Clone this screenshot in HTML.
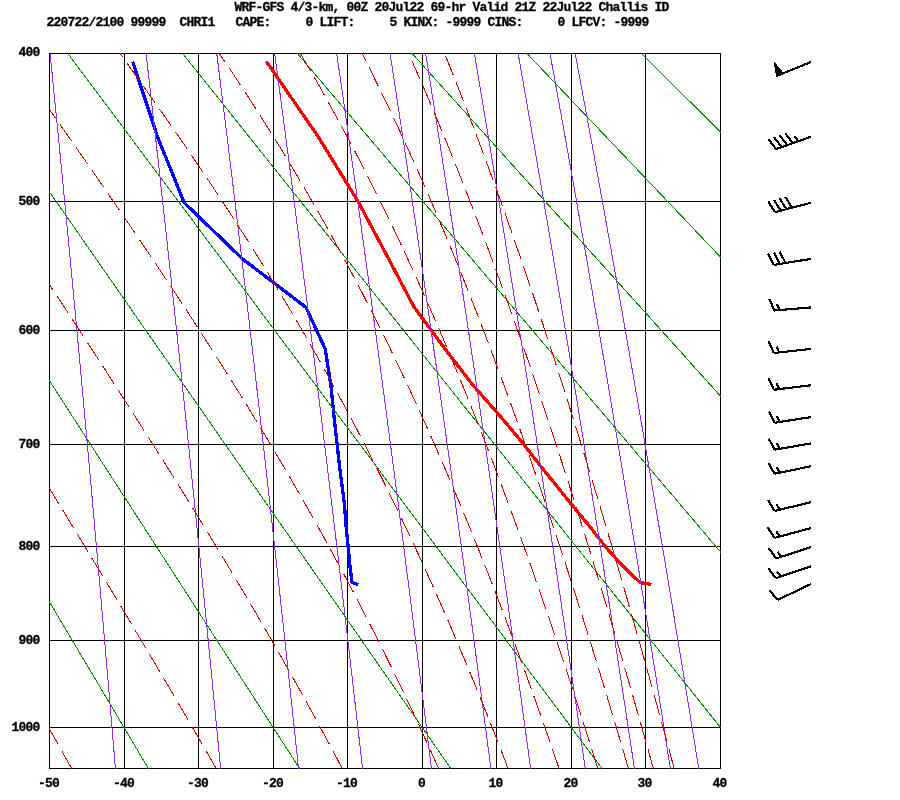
<!DOCTYPE html>
<html><head><meta charset="utf-8"><title>Sounding</title>
<style>
html,body{margin:0;padding:0;background:#fff;}
body{width:900px;height:800px;overflow:hidden;font-family:"Liberation Mono",monospace;}
svg{display:block;will-change:transform;}
</style></head><body>
<svg width="900" height="800" viewBox="0 0 900 800">
<defs><clipPath id="c"><rect x="49" y="53" width="672" height="716"/></clipPath></defs>
<rect width="900" height="800" fill="#fff"/>
<g shape-rendering="crispEdges" stroke="#000" stroke-width="1" fill="none">
<line x1="49.5" y1="53" x2="49.5" y2="769"/>
<line x1="124.5" y1="53" x2="124.5" y2="769"/>
<line x1="198.5" y1="53" x2="198.5" y2="769"/>
<line x1="273.5" y1="53" x2="273.5" y2="769"/>
<line x1="347.5" y1="53" x2="347.5" y2="769"/>
<line x1="422.5" y1="53" x2="422.5" y2="769"/>
<line x1="496.5" y1="53" x2="496.5" y2="769"/>
<line x1="571.5" y1="53" x2="571.5" y2="769"/>
<line x1="645.5" y1="53" x2="645.5" y2="769"/>
<line x1="720.5" y1="53" x2="720.5" y2="769"/>
<line x1="49" y1="53.5" x2="721" y2="53.5"/>
<line x1="49" y1="201.5" x2="721" y2="201.5"/>
<line x1="49" y1="330.5" x2="721" y2="330.5"/>
<line x1="49" y1="444.5" x2="721" y2="444.5"/>
<line x1="49" y1="546.5" x2="721" y2="546.5"/>
<line x1="49" y1="640.5" x2="721" y2="640.5"/>
<line x1="49" y1="727.5" x2="721" y2="727.5"/>
<line x1="49" y1="768.5" x2="721" y2="768.5"/>
</g>
<polyline shape-rendering="crispEdges" stroke="#0000ff" stroke-width="3.3" fill="none" stroke-linecap="butt" stroke-linejoin="round" points="132.6,61.5 157.5,136.75 184.2,202.75 242.5,258.9 306,307.4 325.2,348.9 330.9,385.25 334.1,417.1 337,443.4 339.5,466.25 344.2,502.25 346.3,528.1 348.2,547.1 350,566.25 352,582.5 358.2,584.5"/>
<polyline shape-rendering="crispEdges" stroke="#ff0000" stroke-width="3.3" fill="none" stroke-linecap="butt" stroke-linejoin="round" points="266.4,61.5 318.2,136.75 358.8,202.75 388.6,258.9 414.3,307.4 445,348.9 473,385.25 501,417.1 523,443.4 540.75,466.25 569.75,502.25 591,528.1 605.75,547.1 623,566.25 640,582.5 651.5,584.5"/>
<g clip-path="url(#c)" shape-rendering="crispEdges">
<polyline points="-505.86,53.6 -153.95,768.6" stroke="#008b00" stroke-width="1" fill="none"/>
<polyline points="-391.09,53.6 -2.75,768.6" stroke="#008b00" stroke-width="1" fill="none"/>
<polyline points="-276.32,53.6 148.46,768.6" stroke="#008b00" stroke-width="1" fill="none"/>
<polyline points="-161.56,53.6 299.66,768.6" stroke="#008b00" stroke-width="1" fill="none"/>
<polyline points="-46.79,53.6 450.87,768.6" stroke="#008b00" stroke-width="1" fill="none"/>
<polyline points="67.97,53.6 602.07,768.6" stroke="#008b00" stroke-width="1" fill="none"/>
<polyline points="182.74,53.6 753.27,768.6" stroke="#008b00" stroke-width="1" fill="none"/>
<polyline points="297.51,53.6 904.48,768.6" stroke="#008b00" stroke-width="1" fill="none"/>
<polyline points="412.27,53.6 1055.68,768.6" stroke="#008b00" stroke-width="1" fill="none"/>
<polyline points="527.04,53.6 1206.89,768.6" stroke="#008b00" stroke-width="1" fill="none"/>
<polyline points="641.8,53.6 1358.09,768.6" stroke="#008b00" stroke-width="1" fill="none"/>
<polyline points="756.57,53.6 1509.3,768.6" stroke="#008b00" stroke-width="1" fill="none"/>
<polyline points="871.34,53.6 1660.5,768.6" stroke="#008b00" stroke-width="1" fill="none"/>
<polyline points="986.1,53.6 1811.7,768.6" stroke="#008b00" stroke-width="1" fill="none"/>
<polyline points="1100.87,53.6 1962.91,768.6" stroke="#008b00" stroke-width="1" fill="none"/>
<polyline points="1215.63,53.6 2114.11,768.6" stroke="#008b00" stroke-width="1" fill="none"/>
<polyline points="1330.4,53.6 2265.32,768.6" stroke="#008b00" stroke-width="1" fill="none"/>
<polyline points="50.1,53.6 51.71,69.54 53.27,85.21 54.81,100.62 56.31,115.77 57.78,130.67 59.22,145.34 60.63,159.79 62.02,174.02 63.38,188.04 64.71,201.85 66.02,215.47 67.31,228.9 68.58,242.14 69.82,255.21 71.04,268.11 72.25,280.84 73.43,293.41 74.59,305.82 75.74,318.08 76.87,330.19 77.98,342.16 79.08,353.99 80.16,365.69 81.22,377.25 82.27,388.69 83.3,400 84.32,411.18 85.33,422.25 86.32,433.21 87.3,444.05 88.27,454.78 89.22,465.4 90.17,475.92 91.1,486.34 92.02,496.65 92.93,506.87 93.82,516.99 94.71,527.02 95.59,536.96 96.46,546.81 97.31,556.57 98.16,566.24 99,575.84 99.83,585.34 100.65,594.77 101.46,604.12 102.26,613.39 103.06,622.59 103.84,631.71 104.62,640.76 105.39,649.74 106.15,658.65 106.91,667.49 107.66,676.26 108.4,684.96 109.13,693.6 109.86,702.18 110.58,710.69 111.29,719.14 112,727.53 112.7,735.86 113.39,744.13 114.08,752.34 114.76,760.5 115.44,768.6" stroke="#912cee" stroke-width="1" fill="none"/>
<polyline points="146.07,53.6 147.9,69.54 149.68,85.21 151.42,100.62 153.13,115.77 154.81,130.67 156.45,145.34 158.06,159.79 159.63,174.02 161.18,188.04 162.7,201.85 164.2,215.47 165.66,228.9 167.1,242.14 168.52,255.21 169.91,268.11 171.28,280.84 172.63,293.41 173.96,305.82 175.27,318.08 176.55,330.19 177.82,342.16 179.07,353.99 180.3,365.69 181.52,377.25 182.71,388.69 183.89,400 185.06,411.18 186.2,422.25 187.34,433.21 188.46,444.05 189.56,454.78 190.65,465.4 191.73,475.92 192.79,486.34 193.84,496.65 194.88,506.87 195.9,516.99 196.92,527.02 197.92,536.96 198.91,546.81 199.89,556.57 200.85,566.24 201.81,575.84 202.76,585.34 203.7,594.77 204.62,604.12 205.54,613.39 206.45,622.59 207.35,631.71 208.24,640.76 209.12,649.74 209.99,658.65 210.86,667.49 211.71,676.26 212.56,684.96 213.4,693.6 214.23,702.18 215.05,710.69 215.87,719.14 216.68,727.53 217.48,735.86 218.27,744.13 219.06,752.34 219.84,760.5 220.61,768.6" stroke="#912cee" stroke-width="1" fill="none"/>
<polyline points="216.78,53.6 218.77,69.54 220.73,85.21 222.64,100.62 224.51,115.77 226.34,130.67 228.13,145.34 229.89,159.79 231.62,174.02 233.32,188.04 234.98,201.85 236.62,215.47 238.22,228.9 239.8,242.14 241.35,255.21 242.88,268.11 244.38,280.84 245.86,293.41 247.32,305.82 248.75,318.08 250.16,330.19 251.55,342.16 252.92,353.99 254.27,365.69 255.6,377.25 256.91,388.69 258.2,400 259.48,411.18 260.74,422.25 261.98,433.21 263.21,444.05 264.42,454.78 265.61,465.4 266.79,475.92 267.96,486.34 269.11,496.65 270.25,506.87 271.37,516.99 272.49,527.02 273.59,536.96 274.67,546.81 275.75,556.57 276.81,566.24 277.86,575.84 278.9,585.34 279.93,594.77 280.95,604.12 281.95,613.39 282.95,622.59 283.94,631.71 284.92,640.76 285.88,649.74 286.84,658.65 287.79,667.49 288.73,676.26 289.66,684.96 290.58,693.6 291.49,702.18 292.4,710.69 293.29,719.14 294.18,727.53 295.06,735.86 295.93,744.13 296.8,752.34 297.66,760.5 298.51,768.6" stroke="#912cee" stroke-width="1" fill="none"/>
<polyline points="274.66,53.6 276.8,69.54 278.9,85.21 280.95,100.62 282.96,115.77 284.92,130.67 286.85,145.34 288.74,159.79 290.6,174.02 292.42,188.04 294.21,201.85 295.96,215.47 297.69,228.9 299.38,242.14 301.05,255.21 302.69,268.11 304.31,280.84 305.89,293.41 307.46,305.82 309,318.08 310.51,330.19 312.01,342.16 313.48,353.99 314.93,365.69 316.36,377.25 317.77,388.69 319.16,400 320.53,411.18 321.88,422.25 323.22,433.21 324.54,444.05 325.84,454.78 327.13,465.4 328.4,475.92 329.65,486.34 330.89,496.65 332.12,506.87 333.33,516.99 334.52,527.02 335.71,536.96 336.87,546.81 338.03,556.57 339.17,566.24 340.31,575.84 341.42,585.34 342.53,594.77 343.63,604.12 344.71,613.39 345.78,622.59 346.85,631.71 347.9,640.76 348.94,649.74 349.97,658.65 350.99,667.49 352,676.26 353,684.96 354,693.6 354.98,702.18 355.95,710.69 356.92,719.14 357.88,727.53 358.82,735.86 359.76,744.13 360.7,752.34 361.62,760.5 362.53,768.6" stroke="#912cee" stroke-width="1" fill="none"/>
<polyline points="336.72,53.6 339.02,69.54 341.27,85.21 343.48,100.62 345.64,115.77 347.76,130.67 349.83,145.34 351.87,159.79 353.86,174.02 355.83,188.04 357.75,201.85 359.64,215.47 361.5,228.9 363.33,242.14 365.12,255.21 366.89,268.11 368.63,280.84 370.34,293.41 372.02,305.82 373.68,318.08 375.31,330.19 376.92,342.16 378.51,353.99 380.07,365.69 381.61,377.25 383.13,388.69 384.63,400 386.11,411.18 387.57,422.25 389.01,433.21 390.43,444.05 391.84,454.78 393.22,465.4 394.59,475.92 395.95,486.34 397.28,496.65 398.6,506.87 399.91,516.99 401.2,527.02 402.47,536.96 403.74,546.81 404.98,556.57 406.22,566.24 407.44,575.84 408.64,585.34 409.84,594.77 411.02,604.12 412.19,613.39 413.35,622.59 414.5,631.71 415.63,640.76 416.76,649.74 417.87,658.65 418.97,667.49 420.06,676.26 421.14,684.96 422.21,693.6 423.28,702.18 424.33,710.69 425.37,719.14 426.4,727.53 427.43,735.86 428.44,744.13 429.45,752.34 430.44,760.5 431.43,768.6" stroke="#912cee" stroke-width="1" fill="none"/>
<polyline points="390.07,53.6 392.52,69.54 394.91,85.21 397.26,100.62 399.55,115.77 401.8,130.67 404.01,145.34 406.17,159.79 408.3,174.02 410.38,188.04 412.43,201.85 414.44,215.47 416.42,228.9 418.36,242.14 420.27,255.21 422.15,268.11 424,280.84 425.82,293.41 427.61,305.82 429.37,318.08 431.11,330.19 432.82,342.16 434.51,353.99 436.18,365.69 437.82,377.25 439.43,388.69 441.03,400 442.6,411.18 444.16,422.25 445.69,433.21 447.21,444.05 448.7,454.78 450.18,465.4 451.64,475.92 453.08,486.34 454.5,496.65 455.91,506.87 457.3,516.99 458.67,527.02 460.03,536.96 461.37,546.81 462.7,556.57 464.02,566.24 465.32,575.84 466.6,585.34 467.88,594.77 469.13,604.12 470.38,613.39 471.62,622.59 472.84,631.71 474.05,640.76 475.24,649.74 476.43,658.65 477.6,667.49 478.77,676.26 479.92,684.96 481.06,693.6 482.19,702.18 483.31,710.69 484.43,719.14 485.53,727.53 486.62,735.86 487.7,744.13 488.77,752.34 489.84,760.5 490.89,768.6" stroke="#912cee" stroke-width="1" fill="none"/>
<polyline points="425.65,53.6 428.2,69.54 430.69,85.21 433.13,100.62 435.52,115.77 437.86,130.67 440.16,145.34 442.41,159.79 444.62,174.02 446.79,188.04 448.92,201.85 451.01,215.47 453.07,228.9 455.09,242.14 457.08,255.21 459.03,268.11 460.96,280.84 462.85,293.41 464.72,305.82 466.56,318.08 468.37,330.19 470.15,342.16 471.91,353.99 473.64,365.69 475.35,377.25 477.03,388.69 478.69,400 480.33,411.18 481.95,422.25 483.55,433.21 485.13,444.05 486.68,454.78 488.22,465.4 489.74,475.92 491.24,486.34 492.72,496.65 494.19,506.87 495.64,516.99 497.07,527.02 498.49,536.96 499.89,546.81 501.27,556.57 502.64,566.24 504,575.84 505.34,585.34 506.66,594.77 507.97,604.12 509.27,613.39 510.56,622.59 511.83,631.71 513.09,640.76 514.34,649.74 515.58,658.65 516.8,667.49 518.02,676.26 519.22,684.96 520.41,693.6 521.59,702.18 522.75,710.69 523.91,719.14 525.06,727.53 526.2,735.86 527.33,744.13 528.44,752.34 529.55,760.5 530.65,768.6" stroke="#912cee" stroke-width="1" fill="none"/>
<polyline points="474.42,53.6 477.1,69.54 479.73,85.21 482.3,100.62 484.82,115.77 487.29,130.67 489.71,145.34 492.09,159.79 494.42,174.02 496.71,188.04 498.96,201.85 501.17,215.47 503.34,228.9 505.47,242.14 507.57,255.21 509.63,268.11 511.66,280.84 513.66,293.41 515.63,305.82 517.57,318.08 519.48,330.19 521.37,342.16 523.22,353.99 525.05,365.69 526.85,377.25 528.63,388.69 530.39,400 532.12,411.18 533.83,422.25 535.52,433.21 537.18,444.05 538.83,454.78 540.45,465.4 542.06,475.92 543.64,486.34 545.21,496.65 546.76,506.87 548.29,516.99 549.8,527.02 551.29,536.96 552.77,546.81 554.24,556.57 555.68,566.24 557.12,575.84 558.53,585.34 559.93,594.77 561.32,604.12 562.69,613.39 564.05,622.59 565.4,631.71 566.73,640.76 568.05,649.74 569.36,658.65 570.65,667.49 571.93,676.26 573.2,684.96 574.46,693.6 575.71,702.18 576.95,710.69 578.17,719.14 579.38,727.53 580.59,735.86 581.78,744.13 582.96,752.34 584.13,760.5 585.3,768.6" stroke="#912cee" stroke-width="1" fill="none"/>
<polyline points="518.15,53.6 520.96,69.54 523.71,85.21 526.41,100.62 529.05,115.77 531.64,130.67 534.17,145.34 536.66,159.79 539.1,174.02 541.5,188.04 543.86,201.85 546.17,215.47 548.45,228.9 550.68,242.14 552.88,255.21 555.05,268.11 557.18,280.84 559.28,293.41 561.34,305.82 563.37,318.08 565.38,330.19 567.35,342.16 569.3,353.99 571.21,365.69 573.11,377.25 574.97,388.69 576.81,400 578.63,411.18 580.42,422.25 582.19,433.21 583.94,444.05 585.66,454.78 587.37,465.4 589.05,475.92 590.71,486.34 592.36,496.65 593.98,506.87 595.59,516.99 597.18,527.02 598.75,536.96 600.3,546.81 601.83,556.57 603.35,566.24 604.85,575.84 606.34,585.34 607.81,594.77 609.27,604.12 610.71,613.39 612.14,622.59 613.55,631.71 614.95,640.76 616.33,649.74 617.71,658.65 619.06,667.49 620.41,676.26 621.74,684.96 623.07,693.6 624.37,702.18 625.67,710.69 626.96,719.14 628.23,727.53 629.5,735.86 630.75,744.13 631.99,752.34 633.22,760.5 634.44,768.6" stroke="#912cee" stroke-width="1" fill="none"/>
<polyline points="550.03,53.6 552.94,69.54 555.78,85.21 558.57,100.62 561.3,115.77 563.97,130.67 566.6,145.34 569.17,159.79 571.7,174.02 574.18,188.04 576.61,201.85 579.01,215.47 581.36,228.9 583.67,242.14 585.95,255.21 588.18,268.11 590.39,280.84 592.56,293.41 594.69,305.82 596.79,318.08 598.87,330.19 600.91,342.16 602.92,353.99 604.91,365.69 606.86,377.25 608.79,388.69 610.7,400 612.58,411.18 614.43,422.25 616.26,433.21 618.07,444.05 619.86,454.78 621.62,465.4 623.36,475.92 625.09,486.34 626.79,496.65 628.47,506.87 630.13,516.99 631.77,527.02 633.4,536.96 635,546.81 636.59,556.57 638.17,566.24 639.72,575.84 641.26,585.34 642.78,594.77 644.29,604.12 645.78,613.39 647.26,622.59 648.72,631.71 650.17,640.76 651.61,649.74 653.03,658.65 654.43,667.49 655.83,676.26 657.21,684.96 658.58,693.6 659.93,702.18 661.28,710.69 662.61,719.14 663.93,727.53 665.24,735.86 666.53,744.13 667.82,752.34 669.09,760.5 670.36,768.6" stroke="#912cee" stroke-width="1" fill="none"/>
<polyline points="575.19,53.6 578.17,69.54 581.09,85.21 583.95,100.62 586.75,115.77 589.49,130.67 592.19,145.34 594.83,159.79 597.42,174.02 599.97,188.04 602.47,201.85 604.92,215.47 607.34,228.9 609.71,242.14 612.05,255.21 614.35,268.11 616.61,280.84 618.83,293.41 621.03,305.82 623.19,318.08 625.31,330.19 627.41,342.16 629.48,353.99 631.51,365.69 633.52,377.25 635.51,388.69 637.46,400 639.39,411.18 641.3,422.25 643.18,433.21 645.03,444.05 646.87,454.78 648.68,465.4 650.47,475.92 652.24,486.34 653.98,496.65 655.71,506.87 657.42,516.99 659.1,527.02 660.77,536.96 662.42,546.81 664.06,556.57 665.67,566.24 667.27,575.84 668.85,585.34 670.42,594.77 671.96,604.12 673.5,613.39 675.02,622.59 676.52,631.71 678.01,640.76 679.48,649.74 680.94,658.65 682.39,667.49 683.82,676.26 685.24,684.96 686.64,693.6 688.04,702.18 689.42,710.69 690.78,719.14 692.14,727.53 693.49,735.86 694.82,744.13 696.14,752.34 697.45,760.5 698.75,768.6" stroke="#912cee" stroke-width="1" fill="none"/>
<polyline points="71.72,768.6 67.18,760.5 62.61,752.34 58,744.13 53.36,735.86 48.68,727.53 43.96,719.14 39.21,710.69 34.42,702.18 29.59,693.6 24.73,684.96 19.82,676.26 14.88,667.49 9.89,658.65 4.87,649.74 -0.2,640.76 -5.31,631.71 -10.47,622.59 -15.66,613.39 -20.91,604.12 -26.19,594.77 -31.53,585.34 -36.91,575.84 -42.34,566.24 -47.81,556.57 -53.34,546.81 -58.92,536.96 -64.55,527.02 -70.23,516.99 -75.97,506.87 -81.76,496.65 -87.61,486.34 -93.52,475.92 -99.48,465.4 -105.51,454.78 -111.6,444.05 -117.75,433.21 -123.96,422.25 -130.24,411.18 -136.59,400 -143.01,388.69 -149.5,377.25 -156.07,365.69 -162.71,353.99 -169.43,342.16 -176.22,330.19 -183.1,318.08 -190.06,305.82 -197.11,293.41 -204.25,280.84 -211.48,268.11 -218.81,255.21 -226.23,242.14 -233.75,228.9 -241.38,215.47 -249.12,201.85 -256.96,188.04 -264.93,174.02 -273.01,159.79 -281.22,145.34 -289.55,130.67 -298.02,115.77 -306.63,100.62 -315.38,85.21 -324.28,69.54 -333.34,53.6" stroke="#cd0000" stroke-width="1" fill="none" stroke-dasharray="20.5 7.5"/>
<polyline points="216.23,768.6 211.58,760.5 206.89,752.34 202.15,744.13 197.36,735.86 192.52,727.53 187.64,719.14 182.71,710.69 177.73,702.18 172.7,693.6 167.62,684.96 162.49,676.26 157.3,667.49 152.07,658.65 146.79,649.74 141.45,640.76 136.05,631.71 130.61,622.59 125.11,613.39 119.55,604.12 113.94,594.77 108.27,585.34 102.54,575.84 96.75,566.24 90.9,556.57 85,546.81 79.03,536.96 73,527.02 66.9,516.99 60.75,506.87 54.52,496.65 48.23,486.34 41.87,475.92 35.45,465.4 28.95,454.78 22.38,444.05 15.74,433.21 9.02,422.25 2.23,411.18 -4.64,400 -11.59,388.69 -18.62,377.25 -25.74,365.69 -32.94,353.99 -40.22,342.16 -47.6,330.19 -55.06,318.08 -62.63,305.82 -70.28,293.41 -78.04,280.84 -85.9,268.11 -93.87,255.21 -101.94,242.14 -110.12,228.9 -118.42,215.47 -126.84,201.85 -135.38,188.04 -144.05,174.02 -152.85,159.79 -161.78,145.34 -170.86,130.67 -180.08,115.77 -189.46,100.62 -198.99,85.21 -208.68,69.54 -218.55,53.6" stroke="#cd0000" stroke-width="1" fill="none" stroke-dasharray="20.5 7.5"/>
<polyline points="342.28,768.6 338.02,760.5 333.7,752.34 329.32,744.13 324.89,735.86 320.4,727.53 315.84,719.14 311.23,710.69 306.55,702.18 301.81,693.6 297,684.96 292.13,676.26 287.19,667.49 282.18,658.65 277.11,649.74 271.97,640.76 266.75,631.71 261.46,622.59 256.1,613.39 250.67,604.12 245.16,594.77 239.57,585.34 233.9,575.84 228.16,566.24 222.34,556.57 216.43,546.81 210.45,536.96 204.38,527.02 198.22,516.99 191.98,506.87 185.65,496.65 179.24,486.34 172.73,475.92 166.14,465.4 159.45,454.78 152.67,444.05 145.79,433.21 138.82,422.25 131.75,411.18 124.58,400 117.32,388.69 109.95,377.25 102.47,365.69 94.89,353.99 87.2,342.16 79.4,330.19 71.5,318.08 63.47,305.82 55.33,293.41 47.08,280.84 38.7,268.11 30.2,255.21 21.57,242.14 12.81,228.9 3.92,215.47 -5.11,201.85 -14.28,188.04 -23.59,174.02 -33.06,159.79 -42.67,145.34 -52.44,130.67 -62.38,115.77 -72.49,100.62 -82.77,85.21 -93.24,69.54 -103.89,53.6" stroke="#cd0000" stroke-width="1" fill="none" stroke-dasharray="20.5 7.5"/>
<polyline points="438.67,768.6 435.05,760.5 431.37,752.34 427.64,744.13 423.86,735.86 420.02,727.53 416.13,719.14 412.17,710.69 408.16,702.18 404.08,693.6 399.94,684.96 395.74,676.26 391.47,667.49 387.13,658.65 382.72,649.74 378.24,640.76 373.69,631.71 369.06,622.59 364.35,613.39 359.56,604.12 354.69,594.77 349.74,585.34 344.7,575.84 339.58,566.24 334.36,556.57 329.05,546.81 323.64,536.96 318.14,527.02 312.53,516.99 306.83,506.87 301.01,496.65 295.1,486.34 289.07,475.92 282.92,465.4 276.66,454.78 270.29,444.05 263.79,433.21 257.17,422.25 250.42,411.18 243.54,400 236.53,388.69 229.39,377.25 222.11,365.69 214.69,353.99 207.13,342.16 199.42,330.19 191.56,318.08 183.55,305.82 175.39,293.41 167.07,280.84 158.59,268.11 149.95,255.21 141.14,242.14 132.17,228.9 123.02,215.47 113.7,201.85 104.19,188.04 94.51,174.02 84.64,159.79 74.58,145.34 64.32,130.67 53.87,115.77 43.21,100.62 32.34,85.21 21.26,69.54 9.95,53.6" stroke="#cd0000" stroke-width="1" fill="none" stroke-dasharray="20.5 7.5"/>
<polyline points="508.16,768.6 505.06,760.5 501.91,752.34 498.72,744.13 495.49,735.86 492.21,727.53 488.89,719.14 485.52,710.69 482.1,702.18 478.63,693.6 475.1,684.96 471.53,676.26 467.9,667.49 464.21,658.65 460.47,649.74 456.66,640.76 452.8,631.71 448.87,622.59 444.87,613.39 440.81,604.12 436.68,594.77 432.47,585.34 428.19,575.84 423.84,566.24 419.4,556.57 414.88,546.81 410.28,536.96 405.59,527.02 400.81,516.99 395.93,506.87 390.96,496.65 385.89,486.34 380.71,475.92 375.43,465.4 370.04,454.78 364.53,444.05 358.9,433.21 353.14,422.25 347.26,411.18 341.25,400 335.09,388.69 328.8,377.25 322.36,365.69 315.76,353.99 309.01,342.16 302.09,330.19 295.01,318.08 287.75,305.82 280.31,293.41 272.68,280.84 264.86,268.11 256.84,255.21 248.61,242.14 240.17,228.9 231.52,215.47 222.64,201.85 213.52,188.04 204.18,174.02 194.58,159.79 184.74,145.34 174.64,130.67 164.28,115.77 153.65,100.62 142.74,85.21 131.55,69.54 120.08,53.6" stroke="#cd0000" stroke-width="1" fill="none" stroke-dasharray="20.5 7.5"/>
<polyline points="559.07,768.6 556.31,760.5 553.52,752.34 550.7,744.13 547.84,735.86 544.94,727.53 542.01,719.14 539.04,710.69 536.03,702.18 532.97,693.6 529.88,684.96 526.74,676.26 523.56,667.49 520.33,658.65 517.06,649.74 513.74,640.76 510.37,631.71 506.94,622.59 503.47,613.39 499.94,604.12 496.35,594.77 492.71,585.34 489.01,575.84 485.24,566.24 481.41,556.57 477.51,546.81 473.55,536.96 469.51,527.02 465.4,516.99 461.22,506.87 456.95,496.65 452.61,486.34 448.18,475.92 443.66,465.4 439.05,454.78 434.34,444.05 429.54,433.21 424.63,422.25 419.61,411.18 414.49,400 409.24,388.69 403.88,377.25 398.38,365.69 392.76,353.99 387,342.16 381.09,330.19 375.03,318.08 368.81,305.82 362.43,293.41 355.88,280.84 349.14,268.11 342.22,255.21 335.09,242.14 327.76,228.9 320.21,215.47 312.43,201.85 304.41,188.04 296.14,174.02 287.61,159.79 278.8,145.34 269.71,130.67 260.31,115.77 250.6,100.62 240.57,85.21 230.19,69.54 219.45,53.6" stroke="#cd0000" stroke-width="1" fill="none" stroke-dasharray="20.5 7.5"/>
<polyline points="597.84,768.6 595.31,760.5 592.76,752.34 590.17,744.13 587.56,735.86 584.91,727.53 582.24,719.14 579.53,710.69 576.79,702.18 574.01,693.6 571.2,684.96 568.35,676.26 565.47,667.49 562.54,658.65 559.58,649.74 556.58,640.76 553.54,631.71 550.45,622.59 547.32,613.39 544.15,604.12 540.93,594.77 537.66,585.34 534.34,575.84 530.97,566.24 527.55,556.57 524.08,546.81 520.54,536.96 516.95,527.02 513.3,516.99 509.59,506.87 505.82,496.65 501.97,486.34 498.06,475.92 494.08,465.4 490.02,454.78 485.88,444.05 481.67,433.21 477.37,422.25 472.98,411.18 468.5,400 463.93,388.69 459.26,377.25 454.49,365.69 449.61,353.99 444.62,342.16 439.51,330.19 434.28,318.08 428.92,305.82 423.43,293.41 417.79,280.84 412,268.11 406.06,255.21 399.95,242.14 393.67,228.9 387.2,215.47 380.54,201.85 373.68,188.04 366.6,174.02 359.29,159.79 351.74,145.34 343.93,130.67 335.85,115.77 327.48,100.62 318.8,85.21 309.8,69.54 300.45,53.6" stroke="#cd0000" stroke-width="1" fill="none" stroke-dasharray="20.5 7.5"/>
<polyline points="628.46,768.6 626.1,760.5 623.7,752.34 621.28,744.13 618.83,735.86 616.36,727.53 613.86,719.14 611.33,710.69 608.77,702.18 606.18,693.6 603.56,684.96 600.9,676.26 598.22,667.49 595.5,658.65 592.75,649.74 589.97,640.76 587.14,631.71 584.29,622.59 581.39,613.39 578.45,604.12 575.48,594.77 572.46,585.34 569.4,575.84 566.3,566.24 563.15,556.57 559.96,546.81 556.72,536.96 553.43,527.02 550.08,516.99 546.69,506.87 543.24,496.65 539.74,486.34 536.17,475.92 532.55,465.4 528.86,454.78 525.11,444.05 521.29,433.21 517.4,422.25 513.44,411.18 509.41,400 505.29,388.69 501.1,377.25 496.82,365.69 492.45,353.99 487.98,342.16 483.43,330.19 478.77,318.08 474,305.82 469.13,293.41 464.14,280.84 459.02,268.11 453.78,255.21 448.41,242.14 442.89,228.9 437.23,215.47 431.4,201.85 425.41,188.04 419.25,174.02 412.9,159.79 406.34,145.34 399.58,130.67 392.6,115.77 385.38,100.62 377.9,85.21 370.15,69.54 362.11,53.6" stroke="#cd0000" stroke-width="1" fill="none" stroke-dasharray="20.5 7.5"/>
<polyline points="653.4,768.6 651.14,760.5 648.86,752.34 646.55,744.13 644.22,735.86 641.87,727.53 639.49,719.14 637.08,710.69 634.65,702.18 632.19,693.6 629.71,684.96 627.19,676.26 624.65,667.49 622.08,658.65 619.47,649.74 616.84,640.76 614.17,631.71 611.47,622.59 608.74,613.39 605.97,604.12 603.16,594.77 600.32,585.34 597.44,575.84 594.52,566.24 591.57,556.57 588.57,546.81 585.53,536.96 582.44,527.02 579.31,516.99 576.14,506.87 572.91,496.65 569.64,486.34 566.31,475.92 562.94,465.4 559.51,454.78 556.02,444.05 552.47,433.21 548.86,422.25 545.19,411.18 541.46,400 537.66,388.69 533.78,377.25 529.84,365.69 525.82,353.99 521.72,342.16 517.53,330.19 513.26,318.08 508.91,305.82 504.45,293.41 499.9,280.84 495.25,268.11 490.49,255.21 485.62,242.14 480.63,228.9 475.51,215.47 470.26,201.85 464.88,188.04 459.35,174.02 453.66,159.79 447.81,145.34 441.79,130.67 435.58,115.77 429.18,100.62 422.57,85.21 415.74,69.54 408.67,53.6" stroke="#cd0000" stroke-width="1" fill="none" stroke-dasharray="20.5 7.5"/>
<polyline points="674.19,768.6 672.01,760.5 669.81,752.34 667.59,744.13 665.35,735.86 663.08,727.53 660.79,719.14 658.48,710.69 656.14,702.18 653.78,693.6 651.39,684.96 648.98,676.26 646.53,667.49 644.06,658.65 641.57,649.74 639.04,640.76 636.49,631.71 633.9,622.59 631.28,613.39 628.63,604.12 625.95,594.77 623.24,585.34 620.49,575.84 617.7,566.24 614.88,556.57 612.02,546.81 609.13,536.96 606.19,527.02 603.21,516.99 600.19,506.87 597.13,496.65 594.02,486.34 590.86,475.92 587.66,465.4 584.41,454.78 581.11,444.05 577.76,433.21 574.35,422.25 570.88,411.18 567.36,400 563.78,388.69 560.13,377.25 556.42,365.69 552.65,353.99 548.8,342.16 544.88,330.19 540.88,318.08 536.81,305.82 532.65,293.41 528.41,280.84 524.07,268.11 519.65,255.21 515.12,242.14 510.5,228.9 505.76,215.47 500.91,201.85 495.95,188.04 490.85,174.02 485.63,159.79 480.27,145.34 474.75,130.67 469.09,115.77 463.25,100.62 457.24,85.21 451.05,69.54 444.65,53.6" stroke="#cd0000" stroke-width="1" fill="none" stroke-dasharray="20.5 7.5"/>
</g>
<g shape-rendering="crispEdges" stroke="#000" stroke-width="2.15" fill="none" stroke-linecap="butt">
<line x1="811" y1="62" x2="776.5" y2="76"/>
<polygon points="776.5,76 774.38,62.7 783.26,73.26" fill="#000" stroke-width="1"/>
<line x1="811" y1="136.75" x2="776.1" y2="149.1"/>
<line x1="776.1" y1="149.1" x2="768.37" y2="139.02"/>
<line x1="781.66" y1="147.13" x2="773.93" y2="137.05"/>
<line x1="787.22" y1="145.16" x2="779.5" y2="135.09"/>
<line x1="792.79" y1="143.2" x2="785.06" y2="133.12"/>
<line x1="798.35" y1="141.23" x2="794.48" y2="136.19"/>
<line x1="811" y1="202.75" x2="775" y2="212.1"/>
<line x1="775" y1="212.1" x2="768.17" y2="201.4"/>
<line x1="780.71" y1="210.62" x2="773.88" y2="199.91"/>
<line x1="786.42" y1="209.13" x2="779.59" y2="198.43"/>
<line x1="792.13" y1="207.65" x2="785.3" y2="196.95"/>
<line x1="811" y1="258.9" x2="773.9" y2="264.9"/>
<line x1="773.9" y1="264.9" x2="768.1" y2="253.6"/>
<line x1="779.72" y1="263.96" x2="773.92" y2="252.66"/>
<line x1="785.55" y1="263.02" x2="779.75" y2="251.72"/>
<line x1="811" y1="307.4" x2="774.3" y2="310.5"/>
<line x1="774.3" y1="310.5" x2="769.37" y2="298.79"/>
<line x1="779.58" y1="310.05" x2="777.12" y2="304.2"/>
<line x1="811" y1="348.9" x2="773.9" y2="353"/>
<line x1="773.9" y1="353" x2="768.67" y2="341.43"/>
<line x1="779.17" y1="352.42" x2="776.55" y2="346.63"/>
<line x1="811" y1="385.25" x2="773.9" y2="389.75"/>
<line x1="773.9" y1="389.75" x2="768.55" y2="378.23"/>
<line x1="779.16" y1="389.11" x2="776.49" y2="383.35"/>
<line x1="811" y1="417.1" x2="774.6" y2="422.75"/>
<line x1="774.6" y1="422.75" x2="768.87" y2="411.42"/>
<line x1="779.84" y1="421.94" x2="776.97" y2="416.27"/>
<line x1="811" y1="443.4" x2="774.6" y2="449.75"/>
<line x1="774.6" y1="449.75" x2="768.66" y2="438.53"/>
<line x1="779.82" y1="448.84" x2="776.85" y2="443.23"/>
<line x1="811" y1="466.25" x2="774.6" y2="473.75"/>
<line x1="774.6" y1="473.75" x2="768.32" y2="462.71"/>
<line x1="779.79" y1="472.68" x2="776.65" y2="467.16"/>
<line x1="811" y1="502.25" x2="774.6" y2="510.9"/>
<line x1="774.6" y1="510.9" x2="767.99" y2="500.06"/>
<line x1="779.76" y1="509.67" x2="776.45" y2="504.25"/>
<line x1="811" y1="528.1" x2="774.6" y2="537.9"/>
<line x1="774.6" y1="537.9" x2="767.67" y2="527.26"/>
<line x1="779.72" y1="536.52" x2="776.25" y2="531.2"/>
<line x1="811" y1="547.1" x2="776.2" y2="558.4"/>
<line x1="776.2" y1="558.4" x2="768.74" y2="548.12"/>
<line x1="781.24" y1="556.76" x2="777.51" y2="551.63"/>
<line x1="811" y1="566.25" x2="775.75" y2="578.25"/>
<line x1="775.75" y1="578.25" x2="768.14" y2="568.08"/>
<line x1="780.77" y1="576.54" x2="776.96" y2="571.46"/>
<line x1="811" y1="584" x2="778" y2="599.75"/>
<line x1="778" y1="599.75" x2="769.26" y2="590.54"/>
</g>
<g font-family="'Liberation Mono', monospace" font-weight="bold" font-size="13.0px" letter-spacing="-0.8px" fill="#000" stroke="#000" stroke-width="0.3">
<text x="234.5" y="11" xml:space="preserve">WRF-GFS 4/3-km, 00Z 20Jul22 69-hr Valid 21Z 22Jul22 Challis ID</text>
<text x="46.5" y="26" xml:space="preserve">220722/2100 99999  CHRI1   CAPE:     0 LIFT:     5 KINX: -9999 CINS:     0 LFCV: -9999</text>
<text x="18.5" y="56" xml:space="preserve">400</text>
<text x="18.5" y="205" xml:space="preserve">500</text>
<text x="18.5" y="334" xml:space="preserve">600</text>
<text x="18.5" y="448" xml:space="preserve">700</text>
<text x="18.5" y="550" xml:space="preserve">800</text>
<text x="18.5" y="644" xml:space="preserve">900</text>
<text x="11.5" y="731" xml:space="preserve">1000</text>
<text x="38" y="786.5" xml:space="preserve">-50</text>
<text x="113" y="786.5" xml:space="preserve">-40</text>
<text x="187" y="786.5" xml:space="preserve">-30</text>
<text x="262" y="786.5" xml:space="preserve">-20</text>
<text x="336" y="786.5" xml:space="preserve">-10</text>
<text x="418" y="786.5" xml:space="preserve">0</text>
<text x="488.5" y="786.5" xml:space="preserve">10</text>
<text x="563.5" y="786.5" xml:space="preserve">20</text>
<text x="637.5" y="786.5" xml:space="preserve">30</text>
<text x="712.5" y="786.5" xml:space="preserve">40</text>
</g>
</svg>
</body></html>
